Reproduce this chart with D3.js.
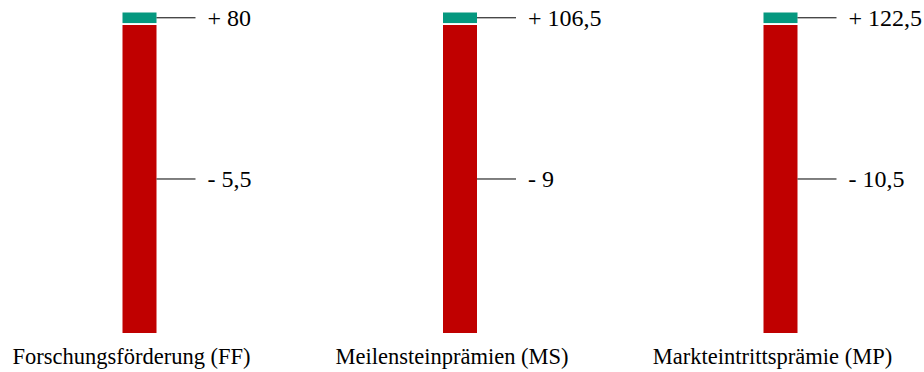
<!DOCTYPE html>
<html>
<head>
<meta charset="utf-8">
<script src="https://cdn.jsdelivr.net/npm/d3@7"></script>
</head>
<body style="margin:0">
<svg id="chart" width="924" height="372"></svg>
<script>
const categories = ["Forschungsförderung (FF)", "Meilensteinprämien (MS)", "Markteintrittsprämie (MP)"];
const gainLabels = ["+ 80", "+ 106,5", "+ 122,5"];
const lossLabels = ["- 5,5", "- 9", "- 10,5"];

const barWidth = 34;
const font = "Liberation Serif";

const svg = d3.select("#chart");

const x = d3.scalePoint()
    .domain(categories)
    .range([139.5, 780.5]);

// bar is drawn on a 0..100 share scale: red part at bottom, small teal cap on top
const y = d3.scaleLinear()
    .domain([0, 100])
    .range([333, 12.5]);

const redTop = 96.1;
const tealBottom = 96.7;

const data = categories.map((c, i) => ({
    cat: c,
    gain: gainLabels[i],
    loss: lossLabels[i]
}));

svg.selectAll(".red")
    .data(data)
    .join("rect")
        .attr("class", "red")
        .attr("x", d => x(d.cat) - barWidth / 2)
        .attr("y", y(redTop))
        .attr("width", barWidth)
        .attr("height", y(0) - y(redTop))
        .attr("fill", "#C00000");

svg.selectAll(".teal")
    .data(data)
    .join("rect")
        .attr("class", "teal")
        .attr("x", d => x(d.cat) - barWidth / 2)
        .attr("y", y(100))
        .attr("width", barWidth)
        .attr("height", y(tealBottom) - y(100))
        .attr("fill", "#05987F");

// leader lines + labels
const gainY = y((100 + tealBottom) / 2);
const lossY = y(redTop / 2);

[gainY, lossY].forEach((ly, k) => {
    svg.selectAll(".lead" + k)
        .data(data)
        .join("line")
            .attr("class", "lead" + k)
            .attr("x1", d => x(d.cat) + barWidth / 2)
            .attr("x2", d => x(d.cat) + barWidth / 2 + 39)
            .attr("y1", ly)
            .attr("y2", ly)
            .attr("stroke", "black");

    svg.selectAll(".val" + k)
        .data(data)
        .join("text")
            .attr("class", "val" + k)
            .attr("x", d => x(d.cat) + barWidth / 2 + 51)
            .attr("y", ly + 8.5)
            .attr("font-family", font)
            .attr("font-size", 24)
            .text(d => k === 0 ? d.gain : d.loss);
});

svg.selectAll(".cat")
    .data(data)
    .join("text")
        .attr("class", "cat")
        .attr("x", d => x(d.cat) - 8)
        .attr("y", 364)
        .attr("text-anchor", "middle")
        .attr("font-family", font)
        .attr("font-size", 22.5)
        .text(d => d.cat);
</script>
</body>
</html>
